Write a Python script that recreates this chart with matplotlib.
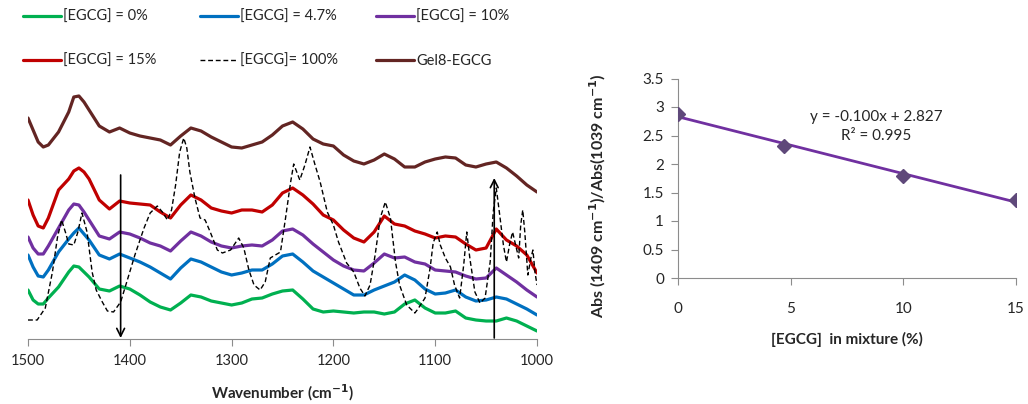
import numpy as np
import matplotlib
matplotlib.use("Agg")
import matplotlib.pyplot as plt

plt.rcParams['font.family'] = ['Lato', 'DejaVu Sans']
plt.rcParams['mathtext.fontset'] = 'dejavusans'
plt.rcParams['lines.solid_joinstyle'] = 'round'
plt.rcParams['lines.solid_capstyle'] = 'round'

# ---------------- data: FTIR spectra (offset absorbance, a.u.) ----------------
wn = [1500, 1495, 1490, 1485, 1480, 1470, 1460, 1455, 1450, 1445, 1440, 1430, 1420, 1410,
      1400, 1390, 1380, 1370, 1360, 1350, 1340, 1330, 1320, 1310, 1300, 1290, 1280, 1270,
      1260, 1250, 1240, 1230, 1220, 1210, 1200, 1190, 1180, 1170, 1160, 1150, 1140, 1130,
      1120, 1110, 1100, 1090, 1080, 1070, 1060, 1050, 1040, 1030, 1020, 1010, 1000]

egcg_0 = [0.50, 0.40, 0.36, 0.36, 0.42, 0.53, 0.68, 0.74, 0.73, 0.68, 0.63, 0.51, 0.49, 0.54,
          0.51, 0.45, 0.38, 0.33, 0.30, 0.37, 0.45, 0.43, 0.39, 0.37, 0.35, 0.37, 0.41, 0.42,
          0.46, 0.49, 0.50, 0.41, 0.31, 0.28, 0.29, 0.28, 0.27, 0.28, 0.28, 0.26, 0.28, 0.36,
          0.40, 0.32, 0.27, 0.27, 0.29, 0.22, 0.20, 0.19, 0.19, 0.22, 0.19, 0.14, 0.09]

egcg_4_7 = [0.85, 0.73, 0.64, 0.63, 0.70, 0.88, 1.01, 1.07, 1.12, 1.06, 1.00, 0.85, 0.81, 0.86,
            0.82, 0.78, 0.73, 0.67, 0.61, 0.72, 0.81, 0.78, 0.73, 0.68, 0.65, 0.67, 0.70, 0.70,
            0.76, 0.84, 0.86, 0.78, 0.69, 0.63, 0.57, 0.51, 0.45, 0.45, 0.50, 0.54, 0.58, 0.65,
            0.60, 0.51, 0.46, 0.47, 0.50, 0.43, 0.39, 0.40, 0.43, 0.41, 0.36, 0.31, 0.25]

egcg_10 = [1.03, 0.92, 0.86, 0.86, 0.94, 1.12, 1.30, 1.36, 1.35, 1.28, 1.20, 1.04, 1.01, 1.08,
           1.06, 1.02, 0.97, 0.94, 0.89, 0.99, 1.08, 1.04, 0.98, 0.94, 0.92, 0.94, 0.95, 0.94,
           1.00, 1.09, 1.11, 1.05, 0.96, 0.88, 0.80, 0.74, 0.70, 0.69, 0.77, 0.86, 0.82, 0.83,
           0.78, 0.76, 0.70, 0.69, 0.68, 0.64, 0.61, 0.62, 0.72, 0.65, 0.58, 0.50, 0.43]

egcg_15 = [1.40, 1.25, 1.14, 1.12, 1.22, 1.50, 1.61, 1.69, 1.72, 1.68, 1.61, 1.40, 1.31, 1.39,
           1.37, 1.36, 1.35, 1.28, 1.22, 1.35, 1.45, 1.40, 1.32, 1.29, 1.27, 1.30, 1.30, 1.28,
           1.35, 1.47, 1.52, 1.45, 1.36, 1.25, 1.20, 1.10, 1.02, 0.98, 1.08, 1.24, 1.16, 1.14,
           1.09, 1.06, 1.02, 1.04, 1.03, 0.96, 0.90, 0.92, 1.11, 1.00, 0.94, 0.85, 0.67]

gel8_egcg = [2.22, 2.10, 1.98, 1.93, 1.95, 2.08, 2.28, 2.43, 2.44, 2.38, 2.30, 2.14, 2.08, 2.12,
             2.07, 2.04, 2.02, 2.00, 1.95, 2.04, 2.12, 2.09, 2.03, 1.98, 1.93, 1.92, 1.95, 1.98,
             2.05, 2.14, 2.18, 2.11, 2.01, 1.96, 1.94, 1.85, 1.79, 1.76, 1.80, 1.86, 1.81, 1.73,
             1.73, 1.78, 1.81, 1.83, 1.82, 1.75, 1.73, 1.76, 1.78, 1.72, 1.64, 1.55, 1.48]

wn_100 = [1500, 1491, 1483, 1476, 1471, 1467, 1463, 1460, 1455, 1451, 1447, 1442, 1437, 1433,
          1427, 1422, 1416, 1409, 1403, 1395, 1386, 1380, 1373, 1368, 1363, 1359, 1355, 1351,
          1347, 1344, 1341, 1336, 1331, 1326, 1321, 1314, 1309, 1301, 1293, 1288, 1283, 1278,
          1272, 1267, 1262, 1257, 1252, 1247, 1242, 1239, 1233, 1228, 1223, 1218, 1213, 1206,
          1200, 1195, 1187, 1180, 1174, 1169, 1164, 1159, 1154, 1149, 1144, 1139, 1135, 1128,
          1120, 1117, 1110, 1105, 1102, 1098, 1095, 1090, 1085, 1081, 1076, 1072, 1069, 1066,
          1061, 1056, 1051, 1046, 1043, 1040, 1037, 1033, 1030, 1027, 1024, 1021, 1018, 1016,
          1014, 1012, 1009, 1006, 1004, 1002, 1000]
egcg_100 = [0.20, 0.20, 0.32, 0.68, 1.03, 1.20, 1.07, 0.96, 0.95, 1.08, 1.27, 1.08, 0.68, 0.50,
            0.38, 0.29, 0.28, 0.38, 0.58, 0.85, 1.12, 1.27, 1.34, 1.28, 1.20, 1.30, 1.55, 1.88,
            2.02, 1.92, 1.68, 1.42, 1.22, 1.20, 1.08, 0.90, 0.87, 0.90, 1.02, 0.92, 0.70, 0.55,
            0.50, 0.58, 0.82, 0.85, 0.88, 1.22, 1.58, 1.76, 1.60, 1.75, 1.93, 1.75, 1.58, 1.28,
            1.15, 0.98, 0.77, 0.68, 0.52, 0.44, 0.55, 0.85, 1.22, 1.38, 1.22, 0.78, 0.55, 0.35,
            0.27, 0.31, 0.42, 0.72, 0.97, 1.08, 0.95, 0.82, 0.73, 0.55, 0.42, 0.75, 1.08, 0.82,
            0.48, 0.37, 0.42, 0.78, 1.28, 1.52, 1.28, 0.95, 0.78, 0.95, 1.08, 0.95, 0.82, 1.15,
            1.30, 1.08, 0.65, 0.82, 0.90, 0.68, 0.55]

labels = ["[EGCG] = 0%", "[EGCG] = 4.7%", "[EGCG] = 10%",
          "[EGCG] = 15%", "[EGCG]= 100%", "Gel8-EGCG"]
arrow_down_wn = 1409
arrow_up_wn = 1042

# ---------------- data: ratio vs EGCG content ----------------
egcg_pct = [0, 4.7, 10, 15]
abs_ratio = [2.87, 2.32, 1.79, 1.37]
eq_text = "y = -0.100x + 2.827"
r2_text = "R² = 0.995"

# ---------------- figure ----------------
fig = plt.figure(figsize=(10.28, 4.04), dpi=100)
txt_col = '#262626'
spine_col = '#8c8c8c'

ax = fig.add_axes([28/1028, 65/404, 509/1028, 259/404])
lw = 2.3
l0, = ax.plot(wn, egcg_0, color='#00B050', lw=lw)
l1, = ax.plot(wn, egcg_4_7, color='#0070C0', lw=lw)
l2, = ax.plot(wn, egcg_10, color='#7030A0', lw=lw)
l3, = ax.plot(wn, egcg_15, color='#C00000', lw=lw)
l4, = ax.plot(wn_100, egcg_100, color='black', lw=1.0, ls=(0, (3.5, 2)))
l5, = ax.plot(wn, gel8_egcg, color='#632523', lw=lw)

ax.set_xlim(1500, 1000)
ax.set_ylim(0.01, 2.60)
ax.set_yticks([])
for s in ['top', 'right', 'left']:
    ax.spines[s].set_visible(False)
ax.spines['bottom'].set_color(spine_col)
ax.set_xticks([1500, 1400, 1300, 1200, 1100, 1000])
ax.tick_params(axis='x', direction='out', length=5, color=spine_col,
               labelsize=10.5, labelcolor=txt_col, pad=6)
ax.set_xlabel('Wavenumber (cm$^{\\mathbf{-1}}$)', fontsize=11, fontweight='bold',
              color=txt_col, labelpad=10)

ap = dict(arrowstyle='->', color='black', lw=1.2, shrinkA=0, shrinkB=0,
          mutation_scale=14)
ax.annotate('', xy=(arrow_down_wn, 0.02), xytext=(arrow_down_wn, 1.65), arrowprops=ap)
ax.annotate('', xy=(arrow_up_wn, 1.62), xytext=(arrow_up_wn, 0.02), arrowprops=ap)

# legends: three columns, two rows
handles = [l0, l1, l2, l3, l4, l5]
col_x = [20, 197, 373]
for c in range(3):
    hs = [handles[c], handles[c + 3]]
    ls_ = [labels[c], labels[c + 3]]
    leg = fig.legend(hs, ls_, loc='upper left',
                     bbox_to_anchor=(col_x[c] / 1028, 1 - 7 / 404),
                     frameon=False, fontsize=10.5, handlelength=2.6,
                     handletextpad=0.15, labelspacing=2.05, borderaxespad=0,
                     borderpad=0.2)
    for t in leg.get_texts():
        t.set_color(txt_col)

# ---------------- right panel ----------------
ax2 = fig.add_axes([678/1028, 126/404, 338/1028, 199.5/404])
slope, intercept = np.polyfit(egcg_pct, abs_ratio, 1)
xfit = np.array([min(egcg_pct), max(egcg_pct)])
ax2.plot(xfit, slope * xfit + intercept, color='#7030A0', lw=2, zorder=2)
ax2.plot(egcg_pct, abs_ratio, ls='none', marker='D', ms=7, color='#5F497A', zorder=3)
ax2.set_xlim(0, 15)
ax2.set_ylim(0, 3.5)
ax2.set_xticks([0, 5, 10, 15])
ax2.set_yticks([0, 0.5, 1, 1.5, 2, 2.5, 3, 3.5])
ax2.set_yticklabels(['0', '0.5', '1', '1.5', '2', '2.5', '3', '3.5'])
for s in ['top', 'right']:
    ax2.spines[s].set_visible(False)
for s in ['left', 'bottom']:
    ax2.spines[s].set_color(spine_col)
ax2.tick_params(axis='x', direction='out', length=5, color=spine_col,
                labelsize=11, labelcolor=txt_col, pad=12)
ax2.tick_params(axis='y', direction='out', length=5, color=spine_col,
                labelsize=11, labelcolor=txt_col, pad=5)
ax2.set_xlabel('[EGCG]  in mixture (%)', fontsize=11, fontweight='bold',
               color=txt_col, labelpad=12)
ax2.text(8.8, 2.66, eq_text + '\n' + r2_text, ha='center', va='center',
         fontsize=11, color=txt_col, linespacing=1.5)
fig.text(598 / 1028, 1 - 196 / 404,
         'Abs (1409 cm$^{\\mathbf{-1}}$)/Abs(1039 cm$^{\\mathbf{-1}}$)',
         rotation=90, ha='center', va='center', fontsize=11.5, fontweight='bold',
         color=txt_col)

fig.savefig('out.png', dpi=100)
